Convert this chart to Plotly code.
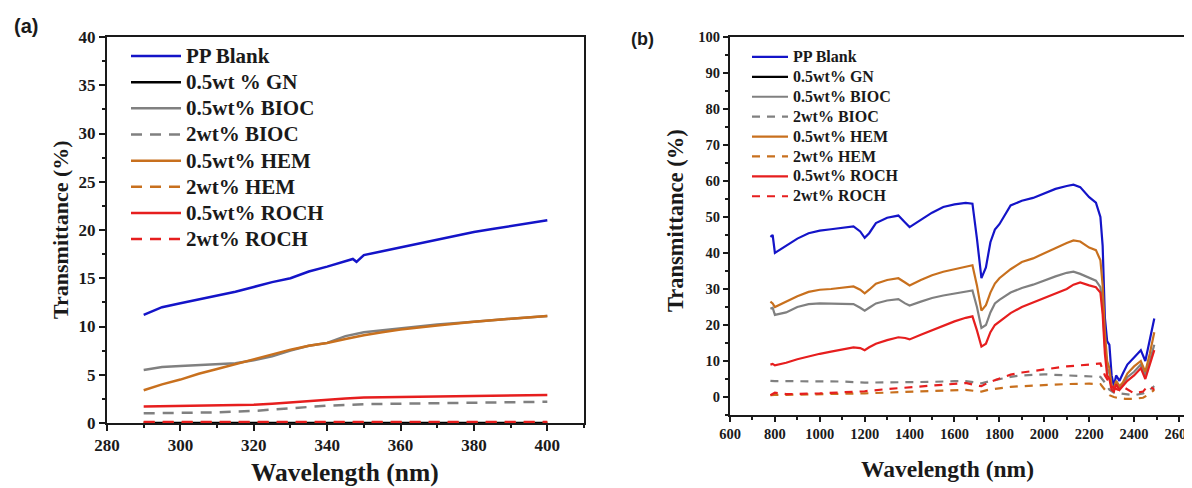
import plotly.graph_objects as go

# ---------------- Panel (a) data ----------------
x_a_blank = [290, 295, 300, 305, 310, 315, 320, 325, 330, 335, 340, 345, 347, 348, 350, 355, 360, 365, 370, 375, 380, 385, 390, 395, 400]
pp_blank_a = [11.2, 12.0, 12.4, 12.8, 13.2, 13.6, 14.1, 14.6, 15.0, 15.7, 16.2, 16.8, 17.0, 16.7, 17.4, 17.8, 18.2, 18.6, 19.0, 19.4, 19.8, 20.1, 20.4, 20.7, 21.0]

x_a = [290, 295, 300, 305, 310, 315, 320, 325, 330, 335, 340, 345, 350, 355, 360, 370, 380, 390, 400]
gn_a = [0.0] * len(x_a)
bioc05_a = [5.5, 5.8, 5.9, 6.0, 6.1, 6.2, 6.5, 6.9, 7.5, 8.0, 8.3, 9.0, 9.4, 9.6, 9.8, 10.2, 10.5, 10.8, 11.1]
hem05_a = [3.4, 4.0, 4.5, 5.1, 5.6, 6.1, 6.6, 7.1, 7.6, 8.0, 8.3, 8.7, 9.1, 9.4, 9.7, 10.1, 10.5, 10.8, 11.1]

x_a2 = [290, 300, 310, 320, 325, 330, 335, 340, 345, 350, 360, 370, 380, 390, 400]
roch05_a = [1.7, 1.75, 1.8, 1.9, 2.0, 2.15, 2.3, 2.45, 2.55, 2.65, 2.7, 2.75, 2.8, 2.85, 2.9]
x_a3 = [290, 300, 310, 320, 330, 340, 350, 360, 370, 380, 390, 400]
bioc2_a = [1.0, 1.05, 1.1, 1.25, 1.5, 1.8, 1.95, 2.0, 2.05, 2.1, 2.15, 2.2]
hem2_a = [0.05] * len(x_a3)
roch2_a = [0.1] * len(x_a3)

# ---------------- Panel (b) data ----------------
x_b = [780, 790, 800, 850, 900, 950, 1000, 1050, 1100, 1150, 1180, 1200, 1220, 1250, 1300, 1350,
       1380, 1400, 1450, 1500, 1550, 1600, 1650, 1680, 1700, 1720, 1740, 1760, 1780, 1800, 1850,
       1900, 1950, 2000, 2050, 2100, 2130, 2160, 2200, 2230, 2250, 2260, 2270, 2280, 2290, 2300,
       2310, 2320, 2335, 2350, 2370, 2400, 2430, 2450, 2470, 2490]
pp_blank_b = [44.5, 45.0, 40.0, 42.0, 44.0, 45.5, 46.2, 46.6, 47.0, 47.4, 46.0, 44.2, 45.5, 48.3, 49.8, 50.4,
              48.5, 47.2, 49.2, 51.2, 52.8, 53.5, 53.9, 53.7, 44.0, 33.0, 36.0, 43.0, 46.5, 48.0, 53.2,
              54.5, 55.3, 56.5, 57.8, 58.6, 59.0, 58.3, 55.5, 54.0, 50.0, 42.0, 22.0, 15.5, 14.5, 6.0,
              3.0, 6.0, 4.5, 6.5, 9.0, 11.0, 13.0, 10.0, 16.0, 21.8]
x_gn_b = [None]
gn_b = [None]
hem05_b = [26.5, 26.0, 25.0, 26.5, 28.0, 29.2, 29.8, 30.0, 30.4, 30.7, 29.8, 28.8, 29.8, 31.5, 32.5, 33.0,
           31.8, 31.0, 32.5, 33.8, 34.8, 35.5, 36.3, 36.6, 31.0, 24.0, 25.5, 29.0, 31.5, 33.0, 35.5,
           37.5, 38.5, 40.0, 41.5, 42.8, 43.5, 43.2, 41.5, 40.8, 38.0, 31.0, 18.0, 10.0, 8.0, 3.0,
           2.5, 4.5, 3.0, 4.0, 6.5, 8.5, 10.0, 7.0, 12.0, 18.0]
bioc05_b = [24.5, 24.8, 22.8, 23.5, 25.0, 25.8, 26.0, 26.0, 26.0, 25.8, 24.8, 24.0, 24.8, 26.0, 26.8, 27.2,
            26.0, 25.4, 26.5, 27.5, 28.2, 28.8, 29.4, 29.6, 25.0, 19.2, 20.0, 23.5, 26.0, 27.0, 29.0,
            30.3, 31.2, 32.4, 33.5, 34.5, 34.8, 34.2, 33.0, 32.3, 30.5, 25.0, 14.0, 8.0, 6.5, 2.5,
            2.0, 4.0, 2.5, 3.5, 5.5, 7.0, 9.0, 6.0, 10.0, 14.5]
roch05_b = [9.0, 9.2, 8.8, 9.5, 10.5, 11.3, 12.0, 12.6, 13.3, 13.8, 13.6, 13.0, 13.8, 14.8, 15.8, 16.6,
            16.4, 16.0, 17.3, 18.6, 19.8, 21.0, 22.0, 22.4, 18.5, 14.0, 14.8, 18.0, 20.0, 21.0, 23.3,
            25.0, 26.2, 27.5, 28.7, 30.0, 31.2, 31.8, 31.0, 30.5, 29.0, 23.0, 12.0, 6.0, 5.0, 2.0,
            1.5, 3.5, 2.0, 3.0, 4.5, 6.0, 8.0, 5.0, 9.0, 13.0]

xd_b = [780, 800, 850, 900, 1000, 1100, 1200, 1300, 1400, 1500, 1600, 1650, 1700, 1720, 1750, 1800, 1850,
        1900, 1950, 2000, 2100, 2200, 2250, 2270, 2290, 2310, 2330, 2360, 2400, 2440, 2460, 2480, 2490]
bioc2_b = [4.5, 4.4, 4.4, 4.4, 4.4, 4.3, 4.0, 4.0, 4.0, 4.2, 4.4, 4.4, 4.0, 3.8, 4.3, 5.0, 5.6,
           6.0, 6.2, 6.3, 6.0, 5.8, 5.6, 4.0, 2.0, 1.2, 1.0, 0.8, 0.5, 1.0, 1.5, 2.5, 3.0]
hem2_b = [0.5, 0.6, 0.6, 0.7, 0.8, 0.9, 1.0, 1.2, 1.5, 1.8, 2.0, 2.0, 1.6, 1.5, 2.0, 2.5, 2.8,
          3.0, 3.2, 3.4, 3.6, 3.7, 3.6, 2.0, 0.5, 0.0, -0.3, -0.5, -0.5, -0.2, 0.5, 1.5, 2.0]
roch2_b = [0.5, 1.2, 0.8, 0.8, 1.0, 1.3, 1.6, 2.2, 2.7, 3.2, 3.7, 3.9, 3.2, 3.0, 4.0, 5.0, 6.2,
           6.8, 7.2, 7.8, 8.5, 9.0, 9.3, 6.0, 4.0, 2.5, 2.0, 2.5, 1.0, 1.5, 3.0, 2.5, 2.0]

names_a = ["PP Blank", "0.5wt % GN", "0.5wt% BIOC", "2wt% BIOC", "0.5wt% HEM", "2wt% HEM", "0.5wt% ROCH", "2wt% ROCH"]
names_b = ["PP Blank", "0.5wt% GN", "0.5wt% BIOC", "2wt% BIOC", "0.5wt% HEM", "2wt% HEM", "0.5wt% ROCH", "2wt% ROCH"]

BLUE = "#1414c8"
BLACK = "#000000"
GRAY = "#808080"
BROWN = "#c8701e"
RED = "#e61e1e"
INK = "#1a1a1a"
SERIF = "Liberation Serif"

fig = go.Figure()

series_a = [
    (x_a_blank, pp_blank_a, BLUE, "solid"),
    (x_a, gn_a, BLACK, "solid"),
    (x_a, bioc05_a, GRAY, "solid"),
    (x_a3, bioc2_a, GRAY, "11px,8px"),
    (x_a, hem05_a, BROWN, "solid"),
    (x_a3, hem2_a, BROWN, "11px,8px"),
    (x_a2, roch05_a, RED, "solid"),
    (x_a3, roch2_a, RED, "11px,8px"),
]
for i, (xs, ys, c, d) in enumerate(series_a):
    fig.add_trace(go.Scatter(x=xs, y=ys, mode="lines",
                             name='<span style="font-size:21px">%s</span>' % names_a[i],
                             line=dict(color=c, width=2.5, dash=d),
                             xaxis="x", yaxis="y", legend="legend"))

series_b = [
    (x_b, pp_blank_b, BLUE, "solid"),
    (x_gn_b, gn_b, BLACK, "solid"),
    (x_b, bioc05_b, GRAY, "solid"),
    (xd_b, bioc2_b, GRAY, "8px,7px"),
    (x_b, hem05_b, BROWN, "solid"),
    (xd_b, hem2_b, BROWN, "8px,7px"),
    (x_b, roch05_b, RED, "solid"),
    (xd_b, roch2_b, RED, "8px,7px"),
]
for i, (xs, ys, c, d) in enumerate(series_b):
    fig.add_trace(go.Scatter(x=xs, y=ys, mode="lines",
                             name='<span style="font-size:16px">%s</span>' % names_b[i],
                             line=dict(color=c, width=2.2, dash=d),
                             xaxis="x2", yaxis="y2", legend="legend2"))

# The page body has an 8px default margin, so the figure is sized to fill
# the rest of the 1192x488 window; positions below are window pixels.
OFF = 8
W, H = 1192 - OFF, 488 - OFF

def px(v):
    return (v - OFF) / W

def py(v):
    return 1 - (v - OFF) / H

axis_common = dict(showline=True, linecolor=INK, linewidth=2, ticks="outside",
                   tickcolor=INK, tickwidth=1.5, showgrid=False, zeroline=False, automargin=False)

fig.update_layout(
    width=W, height=H,
    margin=dict(l=0, r=0, t=0, b=0, autoexpand=False),
    paper_bgcolor="white", plot_bgcolor="white",
    xaxis=dict(domain=[px(107), px(584)], range=[280, 410], dtick=20, tick0=280,
               ticklen=6, minor=dict(ticks="outside", dtick=10, ticklen=3, tickcolor=INK),
               mirror=True, anchor="y",
               tickfont=dict(family=SERIF, size=17, color=INK, weight="bold"), **axis_common),
    yaxis=dict(domain=[py(423), py(37)], range=[0, 40], dtick=5, ticklen=6,
               minor=dict(ticks="outside", dtick=2.5, ticklen=3, tickcolor=INK),
               mirror=True, anchor="x",
               tickfont=dict(family=SERIF, size=17, color=INK, weight="bold"), **axis_common),
    xaxis2=dict(domain=[px(730), 1.0], range=[600, 2658], dtick=200, tick0=600,
                ticklen=5, minor=dict(ticks="outside", dtick=100, ticklen=3, tickcolor=INK),
                mirror=True, anchor="y2", ticklabeloverflow="allow",
                tickfont=dict(family=SERIF, size=14.5, color=INK, weight="bold"), **axis_common),
    yaxis2=dict(domain=[py(415), py(37)], range=[-5, 100], dtick=10, tick0=0, ticklen=5,
                minor=dict(ticks="outside", dtick=5, ticklen=3, tickcolor=INK),
                mirror=False, anchor="x2",
                tickfont=dict(family=SERIF, size=14.5, color=INK, weight="bold"), **axis_common),
    legend=dict(x=px(126), y=py(38), xanchor="left", yanchor="top",
                bgcolor="rgba(0,0,0,0)", itemwidth=50, tracegroupgap=0,
                font=dict(family=SERIF, size=17.8, color=INK, weight="bold")),
    legend2=dict(x=px(747), y=py(42), xanchor="left", yanchor="top",
                 bgcolor="rgba(0,0,0,0)", itemwidth=36, tracegroupgap=0,
                 font=dict(family=SERIF, size=13, color=INK, weight="bold")),
    showlegend=True,
)

annotations = [
    dict(text="(a)", x=px(26), y=py(26), font=dict(family="Liberation Sans", size=20, color=INK, weight="bold")),
    dict(text="(b)", x=px(642), y=py(39), font=dict(family="Liberation Sans", size=18, color=INK, weight="bold")),
    dict(text="Wavelength (nm)", x=px(345), y=py(472), font=dict(family=SERIF, size=25.5, color=INK, weight="bold")),
    dict(text="Wavelength (nm)", x=px(947), y=py(469), font=dict(family=SERIF, size=23.5, color=INK, weight="bold")),
    dict(text="Transmittance (%)", x=px(60), y=py(230), textangle=-90, font=dict(family=SERIF, size=22, color=INK, weight="bold")),
    dict(text="Transmittance (%)", x=px(675), y=py(221), textangle=-90, font=dict(family=SERIF, size=22.5, color=INK, weight="bold")),
]
for a in annotations:
    fig.add_annotation(xref="paper", yref="paper", showarrow=False, xanchor="center", yanchor="middle", **a)

fig.write_html("out.html")
